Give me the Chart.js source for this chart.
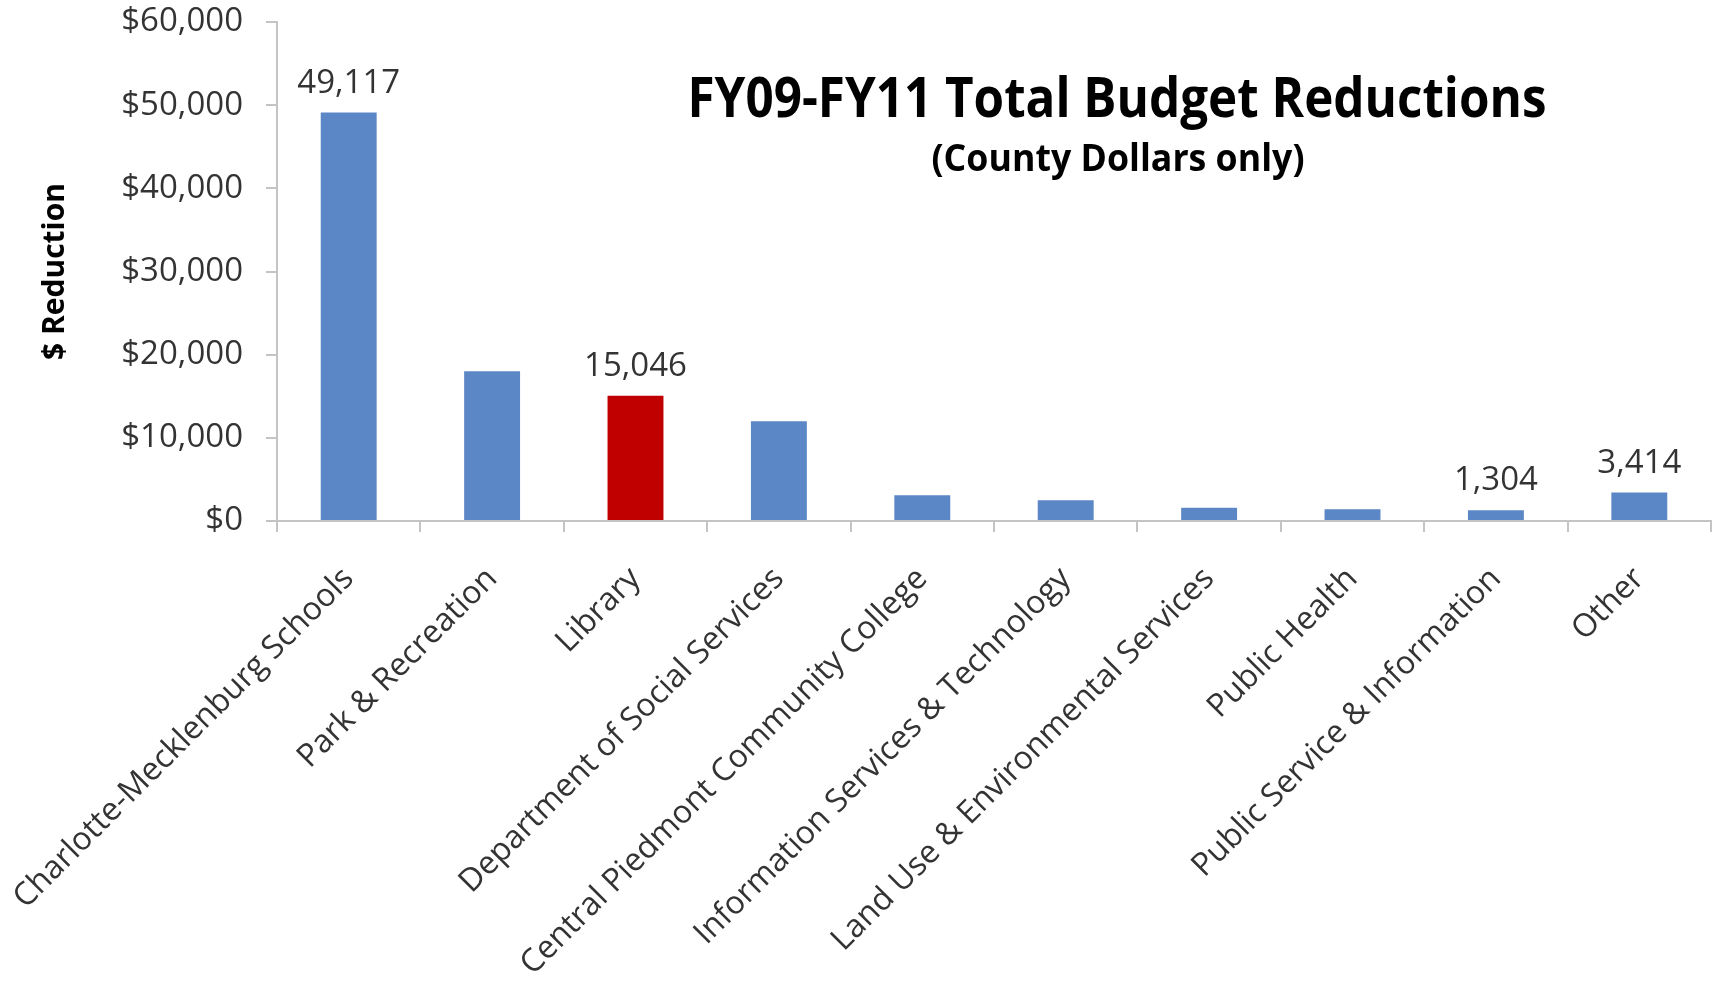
<!DOCTYPE html>
<html>
<head>
<meta charset="utf-8">
<script src="https://cdn.jsdelivr.net/npm/chart.js@4"></script>
<style>
  body { margin: 0; background: #fff; }
  #wrap { width: 1718px; height: 981px; }
</style>
</head>
<body>
<div id="wrap"><canvas id="budgetChart"></canvas></div>
<script>
// departments (x axis)
const departments = [
    'Charlotte-Mecklenburg Schools',
    'Park & Recreation',
    'Library',
    'Department of Social Services',
    'Central Piedmont Community College',
    'Information Services & Technology',
    'Land Use & Environmental Services',
    'Public Health',
    'Public Service & Information',
    'Other'
];

// reduction in thousands of dollars
const reductions = [49117, 18000, 15046, 12000, 3100, 2500, 1600, 1400, 1304, 3414];

// only some bars carry a value label
const valueLabels = ['49,117', '', '15,046', '', '', '', '', '', '1,304', '3,414'];

const highlighted = 'Library';

const titleText = 'FY09-FY11 Total Budget Reductions';
const subtitleText = '(County Dollars only)';

const blue = '#5b87c6';
const red = '#c00000';
const axisGray = '#c4c4c4';
const textGray = '#333333';

const barColors = departments.map(d => d === highlighted ? red : blue);

// disegna le etichette sopra le barre
const valueLabelPlugin = {
    id: 'valueLabels',
    afterDatasetsDraw(chart) {
        const ctx = chart.ctx;
        const meta = chart.getDatasetMeta(0);
        ctx.save();
        ctx.font = '33px "Open Sans"';
        ctx.fillStyle = textGray;
        ctx.textAlign = 'center';
        ctx.textBaseline = 'alphabetic';
        meta.data.forEach((bar, i) => {
            if (!valueLabels[i]) return;
            ctx.fillText(valueLabels[i], bar.x, bar.y - 20);
        });
        ctx.restore();
    }
};

// titolo dentro l'area del grafico
const insideTitlePlugin = {
    id: 'insideTitle',
    afterDraw(chart) {
        const ctx = chart.ctx;
        const drawSqueezed = (text, font, cx, baseline, width) => {
            ctx.save();
            ctx.font = font;
            const w = ctx.measureText(text).width;
            ctx.translate(cx, baseline);
            ctx.scale(Math.min(1, width / w), 1);
            ctx.textAlign = 'center';
            ctx.fillStyle = '#000';
            ctx.fillText(text, 0, 0);
            ctx.restore();
        };
        drawSqueezed(titleText, 'bold 56px "Open Sans"', 1117, 117, 859);
        drawSqueezed(subtitleText, 'bold 38px "Open Sans"', 1118, 171, 373);
    }
};

new Chart(
    document.getElementById('budgetChart'),
    {
        type: 'bar',
        data: {
            labels: departments,
            datasets: [
                {
                    label: '$ Reduction',
                    data: reductions,
                    backgroundColor: barColors,
                    barPercentage: 0.39,
                    categoryPercentage: 1
                }
            ]
        },
        options: {
            responsive: true,
            maintainAspectRatio: false,
            animation: false,
            layout: {
                padding: { left: 10, right: 7, top: 22, bottom: 0 }
            },
            plugins: {
                legend: { display: false },
                tooltip: { enabled: false }
            },
            scales: {
                x: {
                    grid: {
                        display: true,
                        drawOnChartArea: false,
                        drawTicks: true,
                        tickLength: 11,
                        color: axisGray,
                        lineWidth: 2,
                        offset: true
                    },
                    border: { color: axisGray, width: 2 },
                    ticks: {
                        autoSkip: false,
                        minRotation: 45,
                        maxRotation: 45,
                        padding: 28,
                        color: textGray,
                        font: { family: '"Open Sans"', size: 32 }
                    },
                    afterFit(scale) {
                        scale.height = 460;
                        scale.paddingLeft = 0;
                        scale.paddingRight = 0;
                    }
                },
                y: {
                    min: 0,
                    max: 60000,
                    grid: {
                        display: true,
                        drawOnChartArea: false,
                        drawTicks: true,
                        tickLength: 11,
                        color: axisGray,
                        lineWidth: 2
                    },
                    border: { color: axisGray, width: 2 },
                    ticks: {
                        stepSize: 10000,
                        padding: 23,
                        color: textGray,
                        font: { family: '"Open Sans"', size: 33 },
                        callback: v => '$' + v.toLocaleString('en-US')
                    },
                    title: {
                        display: true,
                        text: '$ Reduction',
                        color: '#000',
                        padding: { top: 27, bottom: 0 },
                        font: { family: '"Open Sans"', size: 30, weight: 'bold' }
                    },
                    afterFit(scale) {
                        scale.width = 267;
                        scale.paddingTop = 0;
                        scale.paddingBottom = 0;
                    }
                }
            }
        },
        plugins: [valueLabelPlugin, insideTitlePlugin]
    }
);
</script>
</body>
</html>
